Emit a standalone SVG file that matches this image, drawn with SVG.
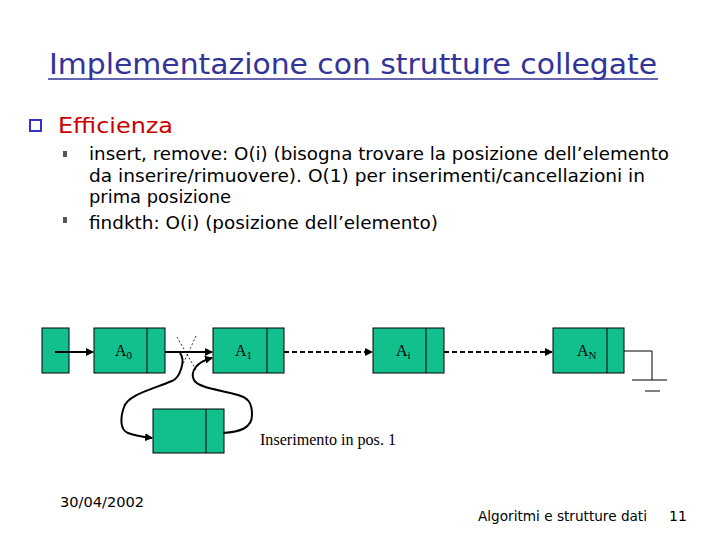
<svg xmlns="http://www.w3.org/2000/svg" width="720" height="540" viewBox="0 0 720 540">
<defs>
<marker id="ah" markerWidth="8" markerHeight="8" refX="7" refY="4" orient="auto" markerUnits="userSpaceOnUse">
<path d="M0,0 L8,4 L0,8 Z" fill="#000"/>
</marker>
<style>
.s{font-family:"DejaVu Sans","Liberation Sans",sans-serif}
.box{fill:#12c08e;stroke:#000;stroke-width:1}
.lbl{font-family:"Liberation Serif","DejaVu Serif",serif;font-size:16px;fill:#000}
.sub{font-size:11px}
.ln{fill:none;stroke:#000;stroke-width:2}
.dl{fill:none;stroke:#000;stroke-width:2;stroke-dasharray:5,3}
.bt{font-size:18px;fill:#000}
</style>
</defs>
<rect width="720" height="540" fill="#fff"/>
<g id="title">
<text class="s" x="353" y="74" text-anchor="middle" font-size="28" fill="#333399" textLength="608" lengthAdjust="spacingAndGlyphs">Implementazione con strutture collegate</text>
<line x1="48" y1="79" x2="658" y2="79" stroke="#333399" stroke-width="1.5"/>
</g>
<g id="bullets">
<rect x="30" y="120" width="11" height="11" fill="none" stroke="#3333cc" stroke-width="2"/>
<text class="s" x="58" y="133" font-size="22" fill="#cc0000" textLength="115" lengthAdjust="spacingAndGlyphs">Efficienza</text>
<rect x="63" y="151" width="4" height="6" fill="#555"/>
<rect x="63" y="217" width="4" height="6" fill="#555"/>
<text class="s bt" x="89" y="160" textLength="580" lengthAdjust="spacingAndGlyphs">insert, remove: O(i) (bisogna trovare la posizione dell’elemento</text>
<text class="s bt" x="89" y="182" textLength="556" lengthAdjust="spacingAndGlyphs">da inserire/rimuovere). O(1) per inserimenti/cancellazioni in</text>
<text class="s bt" x="89" y="203" textLength="142" lengthAdjust="spacingAndGlyphs">prima posizione</text>
<text class="s bt" x="89" y="229" textLength="349" lengthAdjust="spacingAndGlyphs">findkth: O(i) (posizione dell’elemento)</text>
</g>
<g id="head"><rect class="box" x="42" y="328" width="27" height="45"/></g>
<g id="a0"><rect class="box" x="94" y="328" width="71" height="45"/><line x1="147" y1="328" x2="147" y2="373" stroke="#000"/>
<text class="lbl" x="115" y="356">A<tspan class="sub" dy="3">0</tspan></text></g>
<g id="a1"><rect class="box" x="213" y="328" width="71" height="45"/><line x1="267" y1="328" x2="267" y2="373" stroke="#000"/>
<text class="lbl" x="235" y="356">A<tspan class="sub" dy="3">1</tspan></text></g>
<g id="ai"><rect class="box" x="373" y="328" width="71" height="45"/><line x1="426" y1="328" x2="426" y2="373" stroke="#000"/>
<text class="lbl" x="396" y="356">A<tspan class="sub" dy="3">i</tspan></text></g>
<g id="an"><rect class="box" x="553" y="328" width="71" height="45"/><line x1="607" y1="328" x2="607" y2="373" stroke="#000"/>
<text class="lbl" x="577" y="356">A<tspan class="sub" dy="3">N</tspan></text></g>
<g id="new"><rect class="box" x="153" y="409" width="71" height="44"/><line x1="206" y1="409" x2="206" y2="453" stroke="#000"/></g>
<g id="ground" stroke="#000" stroke-width="1" fill="none">
<polyline points="624,351 652,351 652,380"/>
<line x1="632" y1="380" x2="667" y2="380"/>
<line x1="645" y1="391" x2="660" y2="391"/>
</g>
<g id="connectors">
<line class="ln" x1="55" y1="352" x2="93" y2="352" marker-end="url(#ah)"/>
<line class="ln" x1="165" y1="352" x2="212" y2="352" marker-end="url(#ah)"/>
<line class="dl" x1="284" y1="352" x2="372" y2="352" marker-end="url(#ah)"/>
<line class="dl" x1="444" y1="352" x2="552" y2="352" marker-end="url(#ah)"/>
<g stroke="#000" stroke-width="0.8" stroke-dasharray="2,2">
<line x1="177" y1="337" x2="196" y2="370"/>
<line x1="196" y1="336" x2="182" y2="366"/>
</g>
<path class="ln" d="M180,353 C186,360 180,378 172,381 C150,390 128,395 124,407 C120,418 120,430 128,433 C136,436 144,437 152,438" marker-end="url(#ah)"/>
<path class="ln" d="M223,433 C240,432 252,428 252,415 C252,402 248,398 238,395 C222,390 198,388 194,380 C190,372 196,362 212,358" marker-end="url(#ah)"/>
</g>
<text class="lbl" x="260" y="445" font-size="15" textLength="136" lengthAdjust="spacingAndGlyphs">Inserimento in pos. 1</text>
<text class="s" x="60" y="507" font-size="14" fill="#000" textLength="84" lengthAdjust="spacingAndGlyphs">30/04/2002</text>
<text class="s" x="478" y="521" font-size="14" fill="#000" textLength="169" lengthAdjust="spacingAndGlyphs">Algoritmi e strutture dati</text>
<text class="s" x="669" y="521" font-size="14" fill="#000">11</text>
</svg>
